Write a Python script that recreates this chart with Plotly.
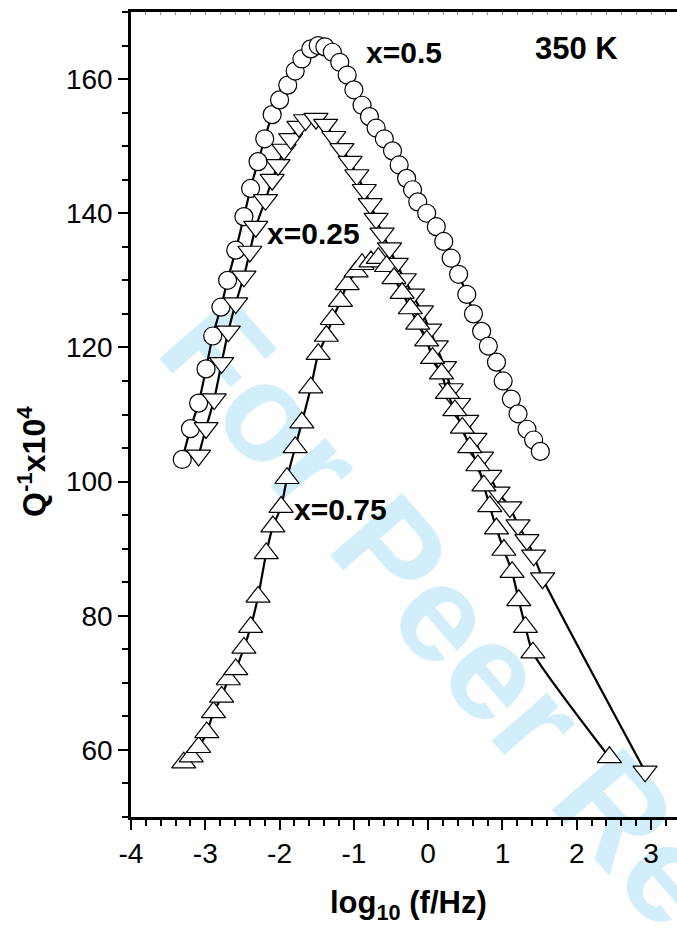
import base64
import plotly.graph_objects as go

# x = 0.5 (circles)
x05 = [-3.31,-3.20,-3.09,-2.99,-2.90,-2.79,-2.70,-2.59,-2.48,-2.39,-2.29,-2.20,-2.10,-2.00,-1.89,-1.79,-1.70,-1.58,-1.48,-1.39,-1.29,-1.19,-1.09,-1.00,-0.89,-0.79,-0.70,-0.59,-0.48,-0.39,-0.29,-0.21,-0.14,-0.02,0.11,0.21,0.31,0.41,0.52,0.61,0.72,0.81,0.92,1.01,1.12,1.21,1.33,1.42,1.51]
y05 = [103.3,107.9,111.7,116.8,121.7,126.0,130.0,134.5,139.5,143.7,147.7,151.1,154.7,156.9,159.1,161.2,163.0,164.5,165.0,164.8,164.0,162.5,160.6,158.4,156.1,154.4,152.7,151.1,149.3,147.2,145.2,143.5,141.7,140.0,138.0,135.8,133.3,130.9,127.9,125.0,122.4,120.2,117.8,115.0,112.3,110.1,107.8,106.2,104.5]

# x = 0.25 (down triangles)
x025 = [-3.09,-2.99,-2.88,-2.78,-2.69,-2.59,-2.48,-2.40,-2.32,-2.19,-2.10,-2.02,-1.94,-1.85,-1.74,-1.65,-1.51,-1.38,-1.27,-1.16,-1.05,-0.96,-0.86,-0.78,-0.70,-0.62,-0.52,-0.43,-0.32,-0.21,-0.09,0.02,0.11,0.22,0.31,0.41,0.52,0.63,0.72,0.83,0.94,1.10,1.21,1.33,1.42,1.54,2.92]
y025 = [103.9,108.0,112.3,117.7,122.4,126.6,130.6,134.3,138.0,142.0,145.0,147.2,149.5,151.1,152.9,153.9,154.1,153.2,151.4,149.6,147.7,145.7,143.5,141.4,139.2,137.0,134.8,132.5,130.2,127.9,125.4,122.7,120.2,117.1,113.8,111.6,109.1,106.4,103.6,100.9,98.4,96.2,93.5,91.3,89.0,85.6,56.8]

# x = 0.75 (up triangles)
x075 = [-3.29,-3.19,-3.09,-2.98,-2.89,-2.78,-2.69,-2.59,-2.48,-2.39,-2.29,-2.18,-2.09,-1.98,-1.90,-1.79,-1.70,-1.58,-1.48,-1.37,-1.29,-1.18,-1.09,-0.97,-0.89,-0.77,-0.67,-0.56,-0.46,-0.35,-0.24,-0.14,-0.02,0.06,0.18,0.26,0.36,0.46,0.56,0.67,0.75,0.83,0.92,1.02,1.13,1.22,1.31,1.41,2.44]
y075 = [58.1,59.0,60.4,62.6,65.6,67.9,70.5,72.0,75.2,78.3,82.8,89.3,93.3,96.2,100.5,105.1,108.8,114.0,119.0,121.7,124.2,126.9,129.4,131.3,132.4,132.8,133.3,132.1,130.3,128.1,125.8,123.5,121.0,118.4,116.1,113.2,110.6,108.0,105.1,102.4,99.4,96.3,93.0,89.8,86.5,82.3,78.3,74.5,58.9]

x_ticks = [-4, -3, -2, -1, 0, 1, 2, 3]
x_ticktext = ["-4", "-3", "-2", "-1", "0", "1", "2", "3"]
y_ticks = [60, 80, 100, 120, 140, 160]
y_ticktext = ["60", "80", "100", "120", "140", "160"]

labels = ["x=0.5", "350 K", "x=0.25", "x=0.75"]
label_x = [-0.33, 2.0, -1.54, -1.18]
label_y = [164.0, 164.6, 137.0, 95.8]
label_size = [30, 31, 30, 30]

W, H = 677, 933
ML, MR, MT, MB = 131, 0, 12, 116
PW, PH = W - ML - MR, H - MT - MB

FONT = "Liberation Sans, Arial, Helvetica, sans-serif"

fig = go.Figure()

def add_series(xs, ys, symbol, size):
    fig.add_trace(go.Scatter(
        x=xs, y=ys, mode="lines+markers",
        line=dict(color="black", width=2.2, shape="spline", smoothing=0.6),
        marker=dict(symbol=symbol, size=size, color="white",
                    line=dict(color="black", width=1.2)),
        showlegend=False, hoverinfo="skip"))

add_series(x05, y05, "circle", 18)
add_series(x025, y025, "triangle-down", 21)
add_series(x075, y075, "triangle-up", 21)

# invisible trace for top minor-tick axis
fig.add_trace(go.Scatter(x=[x_ticks[0]], y=[y_ticks[0]], xaxis="x2", mode="markers",
                         marker=dict(opacity=0), showlegend=False, hoverinfo="skip"))

for t, lx, ly, fs in zip(labels, label_x, label_y, label_size):
    fig.add_annotation(x=lx, y=ly, xref="x", yref="y", text=f"<b>{t}</b>",
                       showarrow=False, font=dict(family=FONT, size=fs, color="black"),
                       xanchor="center", yanchor="middle")

# axis titles
fig.add_annotation(xref="paper", yref="paper", x=(408 - ML) / PW, y=(H - MB - 905) / PH,
                   text="<b>log<sub>10</sub> (f/Hz)</b>", showarrow=False,
                   font=dict(family=FONT, size=31, color="black"),
                   xanchor="center", yanchor="middle")
fig.add_annotation(xref="paper", yref="paper", x=(32 - ML) / PW, y=(H - MB - 462) / PH,
                   text="<b>Q<sup>-1</sup>x10<sup>4</sup></b>", showarrow=False, textangle=-90,
                   font=dict(family=FONT, size=32, color="black"),
                   xanchor="center", yanchor="middle")

# watermark (behind everything)
svg = ('<svg xmlns="http://www.w3.org/2000/svg" width="677" height="933" viewBox="0 0 677 933">'
       '<text x="542" y="725" transform="rotate(49 542 725)" text-anchor="middle" dy="0.35em" '
       'font-family="Liberation Sans, Arial, sans-serif" font-weight="bold" font-size="138" '
       'fill="#d3eefb">For Peer Review</text></svg>')
src = "data:image/svg+xml;base64," + base64.b64encode(svg.encode()).decode()
fig.add_layout_image(dict(source=src, xref="paper", yref="paper",
                          x=-ML / PW, y=1 + MT / PH, sizex=W / PW, sizey=H / PH,
                          xanchor="left", yanchor="top", sizing="stretch", layer="below"))

fig.update_layout(
    width=W, height=H, autosize=False,
    margin=dict(l=ML, r=MR, t=MT, b=MB, pad=0),
    paper_bgcolor="white", plot_bgcolor="rgba(0,0,0,0)",
    font=dict(family=FONT, size=28, color="black"),
    xaxis=dict(range=[-4, 3.35], tickvals=x_ticks, ticktext=x_ticktext, ticks="outside",
               ticklen=10, tickwidth=2, tickcolor="black", showline=True, linewidth=2.5,
               linecolor="black", mirror=True, showgrid=False, zeroline=False,
               tickfont=dict(family=FONT, size=28),
               minor=dict(dtick=0.2, ticks="outside", ticklen=6, tickwidth=2, tickcolor="black")),
    xaxis2=dict(range=[-4, 3.35], overlaying="x", side="top", showticklabels=False,
                ticks="inside", dtick=0.2, tick0=0, ticklen=3, tickwidth=1, tickcolor="#999999",
                showgrid=False, zeroline=False, showline=False),
    yaxis=dict(range=[50, 170], tickvals=y_ticks, ticktext=y_ticktext, ticks="outside",
               ticklen=10, tickwidth=2, tickcolor="black", showline=True, linewidth=2.5,
               linecolor="black", mirror=False, showgrid=False, zeroline=False,
               tickfont=dict(family=FONT, size=28),
               minor=dict(dtick=5, tick0=0, ticks="outside", ticklen=6, tickwidth=2, tickcolor="black")),
)

fig.write_html("out.html", config={"displayModeBar": False},
               post_script="document.body.style.margin='0';")
